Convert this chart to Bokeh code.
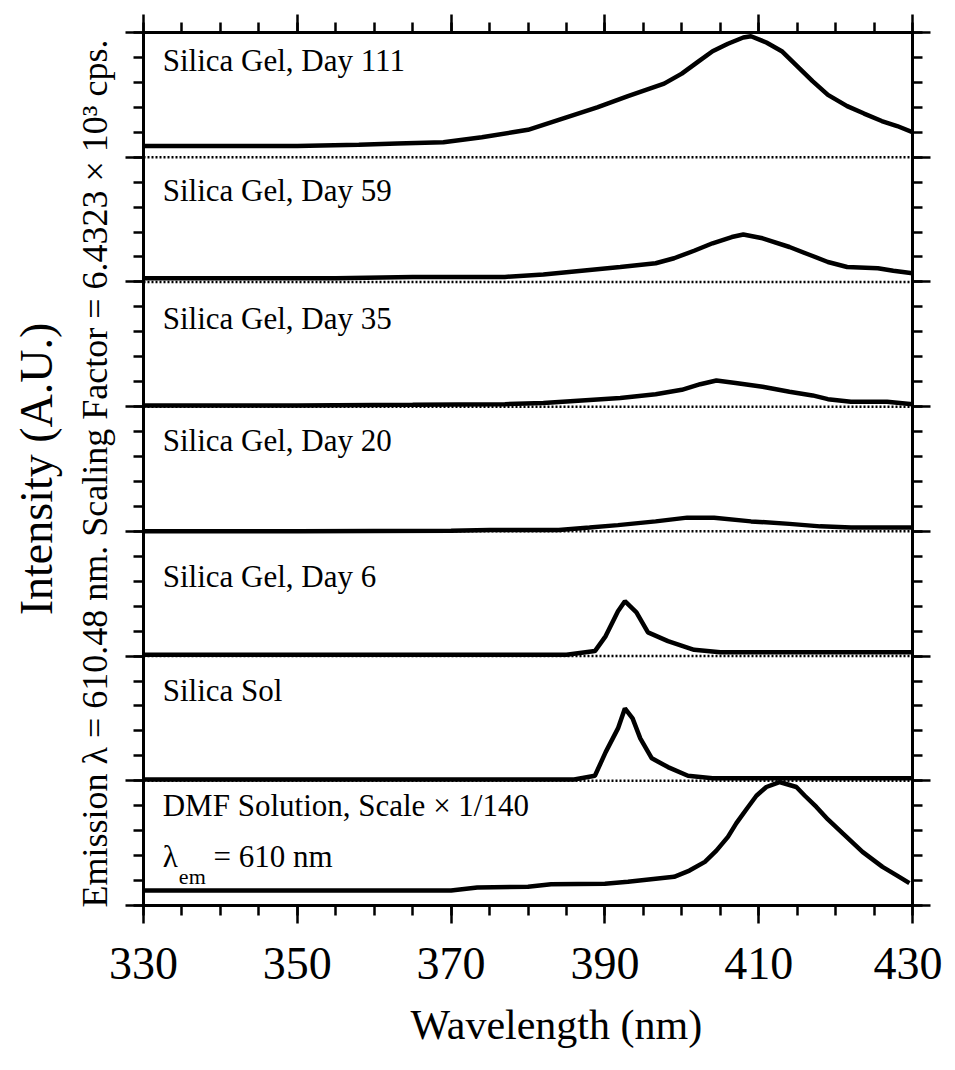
from bokeh.plotting import figure
from bokeh.models import Range1d, LinearAxis, FixedTicker, Span, Label, Title
from bokeh.embed import file_html
from bokeh.resources import INLINE

# ---------------- data ----------------
x_major_ticks = [330, 350, 370, 390, 410, 430]
x_minor_ticks = [330, 335, 340, 345, 350, 355, 360, 365, 370, 375, 380, 385,
                 390, 395, 400, 405, 410, 415, 420, 425, 430]

panel_labels = ["DMF Solution, Scale \u00d7 1/140", "Silica Sol", "Silica Gel, Day 6",
                "Silica Gel, Day 20", "Silica Gel, Day 35", "Silica Gel, Day 59",
                "Silica Gel, Day 111"]

wl_day111 = [330, 340, 350, 358, 363, 369, 374, 378, 380, 382, 385, 389, 393, 397.7,
             400, 402, 404, 406, 408, 409, 411, 413, 415, 417, 419, 421.5, 423.7, 426, 428, 430]
int_day111 = [0.09, 0.09, 0.09, 0.10, 0.11, 0.12, 0.16, 0.20, 0.22, 0.26, 0.32, 0.40, 0.49, 0.59,
              0.67, 0.76, 0.85, 0.91, 0.96, 0.97, 0.92, 0.85, 0.73, 0.61, 0.50, 0.41, 0.35, 0.29, 0.25, 0.20]

wl_day59 = [330, 345, 355, 365, 377, 382, 387, 392, 396.6, 399, 401.6, 404, 406.5, 408,
            410.5, 414, 416.5, 419, 421.5, 425.5, 427.5, 430]
int_day59 = [0.03, 0.03, 0.03, 0.04, 0.04, 0.06, 0.09, 0.12, 0.15, 0.19, 0.25, 0.31, 0.36, 0.38,
             0.35, 0.28, 0.22, 0.16, 0.12, 0.11, 0.09, 0.07]

wl_day35 = [330, 350, 365, 377, 382, 387, 392, 396.6, 400, 402.4, 404.5, 407, 410.5, 414,
            417, 419, 422, 426.7, 430]
int_day35 = [0.01, 0.01, 0.015, 0.02, 0.03, 0.05, 0.07, 0.10, 0.135, 0.18, 0.21, 0.19, 0.16, 0.12,
             0.09, 0.06, 0.04, 0.04, 0.02]

wl_day20 = [330, 350, 370, 375, 384, 388, 391.7, 396.6, 400.7, 404.2, 409, 414, 418, 422, 430]
int_day20 = [0.0, 0.0, 0.005, 0.01, 0.01, 0.03, 0.05, 0.08, 0.11, 0.11, 0.08, 0.06, 0.04, 0.03, 0.03]

wl_day6 = [330, 360, 385, 388.7, 390.1, 391.7, 392.6, 394.1, 395.6, 398.2, 401.6, 405, 430]
int_day6 = [0.01, 0.01, 0.01, 0.04, 0.16, 0.36, 0.44, 0.35, 0.19, 0.12, 0.05, 0.03, 0.03]

wl_sol = [330, 360, 386, 388.7, 390.1, 391.7, 392.6, 393.6, 394.6, 396.1, 398.2, 400.8, 404, 430]
int_sol = [0.01, 0.01, 0.01, 0.04, 0.23, 0.42, 0.58, 0.50, 0.34, 0.18, 0.11, 0.04, 0.02, 0.02]

wl_dmf = [330, 350, 370, 373.4, 380, 383, 390, 393, 396, 399, 401, 403, 404.5, 406, 407.1,
          408.5, 409.7, 411, 412.7, 414.9, 416, 417.5, 419, 420.9, 423.5, 426.1, 428, 429.6]
int_dmf = [0.12, 0.12, 0.12, 0.145, 0.15, 0.17, 0.175, 0.19, 0.21, 0.23, 0.28, 0.35, 0.44, 0.55, 0.66,
           0.78, 0.88, 0.95, 0.99, 0.95, 0.88, 0.79, 0.69, 0.58, 0.43, 0.31, 0.24, 0.18]

series = [(wl_dmf, int_dmf), (wl_sol, int_sol), (wl_day6, int_day6), (wl_day20, int_day20),
          (wl_day35, int_day35), (wl_day59, int_day59), (wl_day111, int_day111)]

y_major_ticks = [0, 1, 2, 3, 4, 5, 6, 7]
y_minor_ticks = [i / 5 for i in range(0, 36)]

# ---------------- figure ----------------
FONT = "Liberation Serif"
p = figure(frame_width=769, frame_height=873,
           x_range=Range1d(330, 430), y_range=Range1d(0, 7),
           min_border_left=143, min_border_right=30, min_border_top=32, min_border_bottom=150,
           output_backend="svg", toolbar_location=None)
p.background_fill_color = "white"
p.border_fill_color = "white"
p.grid.visible = False
p.outline_line_color = "black"
p.outline_line_width = 3


def style_axis(ax, ticks, minor, labels):
    ax.ticker = FixedTicker(ticks=ticks, minor_ticks=minor)
    ax.axis_line_width = 3
    ax.major_tick_line_width = 2.5
    ax.minor_tick_line_width = 2.5
    ax.major_tick_in = 0
    ax.minor_tick_in = 0
    ax.major_tick_out = 18
    ax.minor_tick_out = 10
    if labels:
        ax.major_label_text_font = FONT
        ax.major_label_text_font_size = "46px"
        ax.major_label_text_color = "black"
        ax.major_label_standoff = 24
    else:
        ax.major_label_overrides = {t: "" for t in ticks}
        ax.major_label_standoff = 0


style_axis(p.xaxis[0], x_major_ticks, x_minor_ticks, True)
style_axis(p.yaxis[0], y_major_ticks, y_minor_ticks, False)
top_ax = LinearAxis()
style_axis(top_ax, x_major_ticks, x_minor_ticks, False)
p.add_layout(top_ax, "above")
right_ax = LinearAxis()
style_axis(right_ax, y_major_ticks, y_minor_ticks, False)
p.add_layout(right_ax, "right")

# dotted zero lines of the stacked panels
for k in range(1, 7):
    p.add_layout(Span(location=k, dimension="width", line_color="black",
                      line_width=2.5, line_dash="2 2"))

# spectra, each stacked on its own panel
for k, (wl, inten) in enumerate(series):
    p.line(wl, [k + v for v in inten], line_color="black", line_width=4.5)

# panel labels (vertical centre of the text within each panel)
label_pos = [0.80, 0.72, 0.64, 0.73, 0.71, 0.735, 0.775]
for k, name in enumerate(panel_labels):
    p.add_layout(Label(x=332.5, y=k + label_pos[k], text=name, text_font=FONT,
                       text_font_size="31px", text_color="black", text_baseline="middle"))

p.add_layout(Label(x=332.5, y=0.39, text="\u03bb", text_font=FONT, text_font_size="31px",
                   text_color="black", text_baseline="middle"))
p.add_layout(Label(x=334.6, y=0.23, text="em", text_font=FONT, text_font_size="22px",
                   text_color="black", text_baseline="middle"))
p.add_layout(Label(x=339.1, y=0.39, text="= 610 nm", text_font=FONT, text_font_size="31px",
                   text_color="black", text_baseline="middle"))

# axis titles
t_em = Title(text="Emission \u03bb = 610.48 nm.  Scaling Factor = 6.4323 \u00d7 10\u00b3 cps.",
             align="center", text_font=FONT, text_font_size="36px", text_font_style="normal",
             text_color="black", standoff=22)
p.add_layout(t_em, "left")
t_int = Title(text="Intensity (A.U.)", align="center", text_font=FONT, text_font_size="46px",
              text_font_style="normal", text_color="black", standoff=0)
p.add_layout(t_int, "left")
t_wl = Title(text="Wavelength (nm)", align="left", offset=267, text_font=FONT,
             text_font_size="42px", text_font_style="normal", text_color="black", standoff=36)
p.add_layout(t_wl, "below")

open("out.html", "w").write(file_html(p, INLINE))
